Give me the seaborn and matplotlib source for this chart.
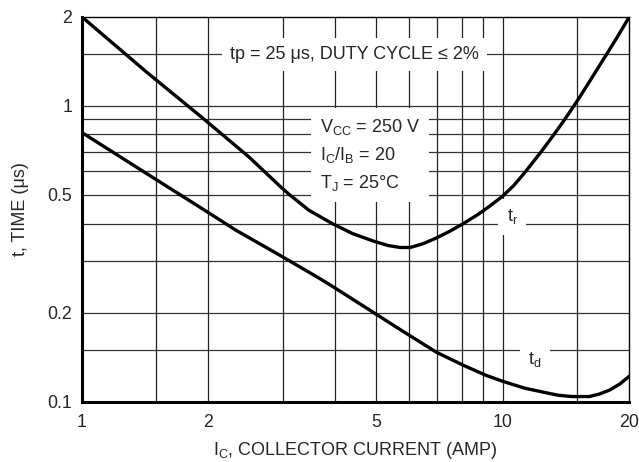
import matplotlib
matplotlib.use("Agg")
import matplotlib.pyplot as plt
import pandas as pd
import seaborn as sns

# rise time curve
ic_tr = [1.0, 1.424, 1.938, 2.498, 2.974, 3.105, 3.462, 3.924, 4.399, 4.931, 5.350,
         5.710, 6.030, 6.471, 6.945, 7.494, 8.045, 8.730, 9.318, 10.0, 10.63, 11.31,
         12.38, 13.21, 13.98, 14.51, 15.19, 16.33, 17.61, 18.78, 20.0]
t_r = [2.0, 1.302, 0.909, 0.671, 0.531, 0.503, 0.444, 0.401, 0.370, 0.349, 0.337,
       0.332, 0.332, 0.342, 0.357, 0.377, 0.399, 0.429, 0.458, 0.495, 0.538, 0.597,
       0.703, 0.796, 0.891, 0.963, 1.062, 1.250, 1.484, 1.720, 2.0]

# delay time curve
ic_td = [1.0, 1.424, 1.938, 2.323, 2.974, 3.656, 3.930, 4.912, 5.648, 6.958, 8.045,
         9.102, 10.04, 11.31, 12.85, 13.59, 14.61, 16.07, 16.99, 17.96, 18.99, 20.0]
t_d = [0.813, 0.591, 0.448, 0.380, 0.311, 0.262, 0.246, 0.201, 0.177, 0.147, 0.133,
       0.123, 0.117, 0.111, 0.1068, 0.1051, 0.1041, 0.1041, 0.1062, 0.1095, 0.1148, 0.122]

x_grid = [1.5, 2, 3, 4, 5, 6, 7, 8, 9, 10, 15]
y_grid = [0.15, 0.2, 0.3, 0.4, 0.5, 0.6, 0.7, 0.8, 0.9, 1, 1.5]
x_ticks = [1, 2, 5, 10, 20]
x_labels = ["1", "2", "5", "10", "20"]
y_ticks = [0.1, 0.2, 0.5, 1, 2]
y_labels = ["0.1", "0.2", "0.5", "1", "2"]

sns.set_style("white")
plt.rcParams['font.family'] = ['Liberation Sans', 'DejaVu Sans']
plt.rcParams['mathtext.fontset'] = 'custom'
plt.rcParams['mathtext.rm'] = 'Liberation Sans'
plt.rcParams['mathtext.it'] = 'Liberation Sans:italic'
fs = 13

fig = plt.figure(figsize=(6.39, 4.62), dpi=100)
ax = fig.add_axes([0.1279, 0.1305, 0.857, 0.8333])

# grid drawn by hand so the label boxes can cut through it
for xv in x_grid:
    ax.axvline(xv, color='#222222', lw=0.9, zorder=1)
for yv in y_grid:
    ax.axhline(yv, color='#333333', lw=0.9, zorder=1)

df_r = pd.DataFrame({'Ic': ic_tr, 't': t_r})
df_d = pd.DataFrame({'Ic': ic_td, 't': t_d})
sns.lineplot(data=df_r, x='Ic', y='t', color='black', lw=2.4, sort=False,
             estimator=None, ax=ax, zorder=3)
sns.lineplot(data=df_d, x='Ic', y='t', color='black', lw=2.4, sort=False,
             estimator=None, ax=ax, zorder=3)

ax.set_xscale('log')
ax.set_yscale('log')
ax.set_xlim(1, 20)
ax.set_ylim(0.1, 2)
ax.set_xticks(x_ticks)
ax.set_xticklabels(x_labels, fontsize=12.8)
ax.set_yticks(y_ticks)
ax.set_yticklabels(y_labels, fontsize=12.8)
ax.minorticks_off()
ax.tick_params(axis='both', length=0)
ax.tick_params(axis='x', pad=9)
ax.tick_params(axis='y', pad=7)

ax.set_xlabel(r"$\mathregular{I_C}$, COLLECTOR CURRENT (AMP)", fontsize=fs, labelpad=6)
ax.set_ylabel("t, TIME (μs)", fontsize=fs, labelpad=13)

for side in ['left', 'bottom']:
    ax.spines[side].set_linewidth(2.2)
for side in ['top', 'right']:
    ax.spines[side].set_linewidth(1.0)
for s in ax.spines.values():
    s.set_color('black')

box = dict(facecolor='white', edgecolor='none', boxstyle='square,pad=0.45')
ax.text(0.498, 0.902, "tp = 25 μs, DUTY CYCLE ≤ 2%", transform=ax.transAxes,
        ha='center', va='center', fontsize=fs, bbox=box, zorder=2)
ax.text(0.435, 0.641,
        "$\\mathregular{V_{CC}}$ = 250 V\n$\\mathregular{I_C/I_B}$ = 20\n$\\mathregular{T_J}$ = 25°C",
        transform=ax.transAxes, ha='left', va='center', fontsize=fs,
        linespacing=1.55, bbox=dict(facecolor='white', edgecolor='none',
                                    boxstyle='square,pad=0.5'), zorder=2)
ax.text(0.786, 0.48, "$\\mathregular{t_r}$", transform=ax.transAxes, ha='center',
        va='center', fontsize=fs, bbox=box, zorder=2)
ax.text(0.828, 0.11, "$\\mathregular{t_d}$", transform=ax.transAxes, ha='center',
        va='center', fontsize=fs, bbox=box, zorder=2)

fig.savefig("out.png", dpi=100)
